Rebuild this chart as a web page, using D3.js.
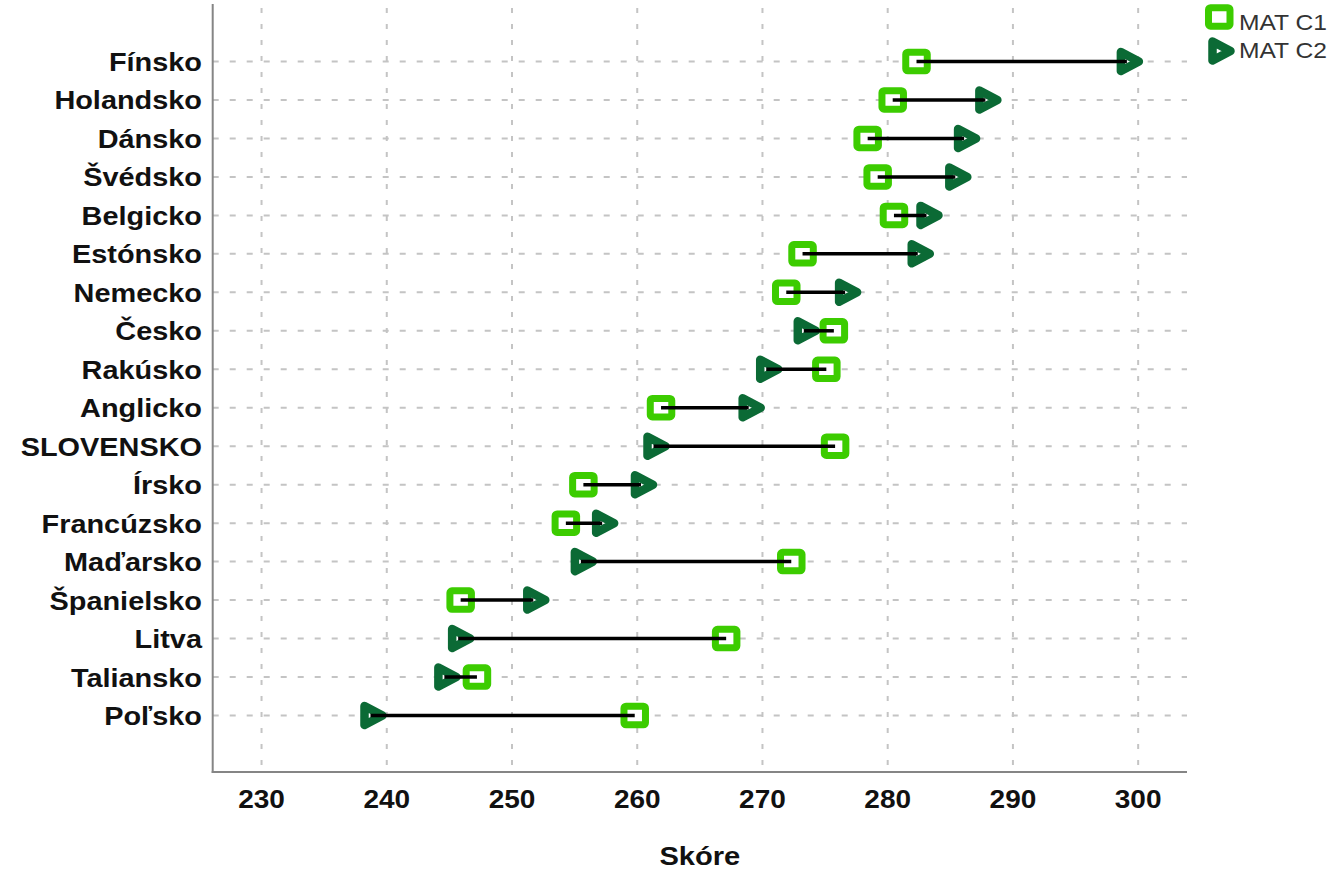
<!DOCTYPE html>
<html><head><meta charset="utf-8">
<script src="https://cdn.jsdelivr.net/npm/d3@7"></script>
<style>
html,body{margin:0;padding:0;background:#fff;}
svg{display:block;}
text{font-family:"Liberation Sans",Arial,sans-serif;}
</style></head>
<body>
<svg id="chart" width="1337" height="870"></svg>
<script>
const countries = ["Fínsko","Holandsko","Dánsko","Švédsko","Belgicko","Estónsko","Nemecko","Česko","Rakúsko","Anglicko","SLOVENSKO","Írsko","Francúzsko","Maďarsko","Španielsko","Litva","Taliansko","Poľsko"];
const matC1 = [282.3,280.4,278.4,279.2,280.5,273.2,271.9,275.7,275.1,261.9,275.8,255.7,254.3,272.3,245.9,267.1,247.2,259.8];
const matC2 = [299.1,287.8,286.1,285.4,283.1,282.4,276.6,273.3,270.3,268.9,261.3,260.3,257.2,255.5,251.7,245.7,244.6,238.7];
const xTicks = [230,240,250,260,270,280,290,300];
const seriesNames = ["MAT C1","MAT C2"];
const xTitle = "Skóre";

(function(){
const C1COL = "#3ccc00", C2COL = "#0b6a35";
const SX = 1.12;
const svg = d3.select("#chart");
const pLeft = 212.7, pRight = 1187, pTop = 4, pBottom = 772;

const x = d3.scaleLinear().domain([226.1, 303.9]).range([pLeft, pRight]);
const y = d3.scalePoint().domain(countries).range([61.5, 715.5]);

const data = countries.map((c,i)=>({c, a:matC1[i], b:matC2[i]}));

// grid
const g = svg.append("g");
g.selectAll("line.vg").data(xTicks).join("line")
  .attr("x1",d=>x(d)).attr("x2",d=>x(d)).attr("y1",pTop+4).attr("y2",pBottom)
  .attr("stroke","#c4c4c4").attr("stroke-width",2).attr("stroke-dasharray","5,11");
g.selectAll("line.hg").data(countries).join("line")
  .attr("x1",pLeft).attr("x2",pRight).attr("y1",d=>y(d)).attr("y2",d=>y(d))
  .attr("stroke","#c4c4c4").attr("stroke-width",2).attr("stroke-dasharray","6,11");

// axes lines
svg.append("line").attr("x1",pLeft).attr("x2",pLeft).attr("y1",pTop).attr("y2",pBottom+1)
  .attr("stroke","#858585").attr("stroke-width",2);
svg.append("line").attr("x1",pLeft-1).attr("x2",pRight).attr("y1",pBottom).attr("y2",pBottom)
  .attr("stroke","#858585").attr("stroke-width",2);

// x tick labels
svg.selectAll("text.xt").data(xTicks).join("text")
  .attr("transform",d=>`translate(${x(d)},808) scale(${SX},1)`)
  .attr("text-anchor","middle").attr("font-size",25).attr("font-weight","bold").attr("fill","#111")
  .text(d=>d);
// y labels
svg.selectAll("text.yl").data(countries).join("text")
  .attr("transform",d=>`translate(202,${y(d)+9.5}) scale(${SX},1)`)
  .attr("text-anchor","end").attr("font-size",25.8).attr("font-weight","bold").attr("fill","#111")
  .text(d=>d);
// x title
svg.append("text").attr("transform",`translate(${(pLeft+pRight)/2},865) scale(${SX},1)`)
  .attr("text-anchor","middle").attr("font-size",26).attr("font-weight","bold").attr("fill","#111")
  .text(xTitle);

const triPath = "M-6,-9.5L12,0L-6,9.5Z";
function square(sel){
  sel.attr("width",21.5).attr("height",18.5).attr("rx",2)
    .attr("fill","#fff").attr("stroke",C1COL).attr("stroke-width",7);
}
function tri(sel){
  sel.attr("d",triPath).attr("fill","#fff").attr("stroke",C2COL)
    .attr("stroke-width",8.5).attr("stroke-linejoin","round");
}

const rows = svg.append("g").selectAll("g").data(data).join("g");
rows.append("rect").call(square)
  .attr("x",d=>x(d.a)-10.75).attr("y",d=>y(d.c)-9.25);
rows.append("path").call(tri)
  .attr("transform",d=>`translate(${x(d.b)},${y(d.c)})`);
rows.append("line")
  .attr("x1",d=>x(d.a)).attr("x2",d=>x(d.b))
  .attr("y1",d=>y(d.c)).attr("y2",d=>y(d.c))
  .attr("stroke","#000").attr("stroke-width",3.5);

// legend
const lg = svg.append("g");
lg.append("rect").call(square).attr("x",1208.5).attr("y",7.7);
lg.append("path").call(tri).attr("transform","translate(1218.5,51)");
lg.selectAll("text").data(seriesNames).join("text")
  .attr("transform",(d,i)=>`translate(1239,${i===0?30:58}) scale(${SX},1)`)
  .attr("font-size",22).attr("fill","#333").text(d=>d);
})();
</script>
</body></html>
